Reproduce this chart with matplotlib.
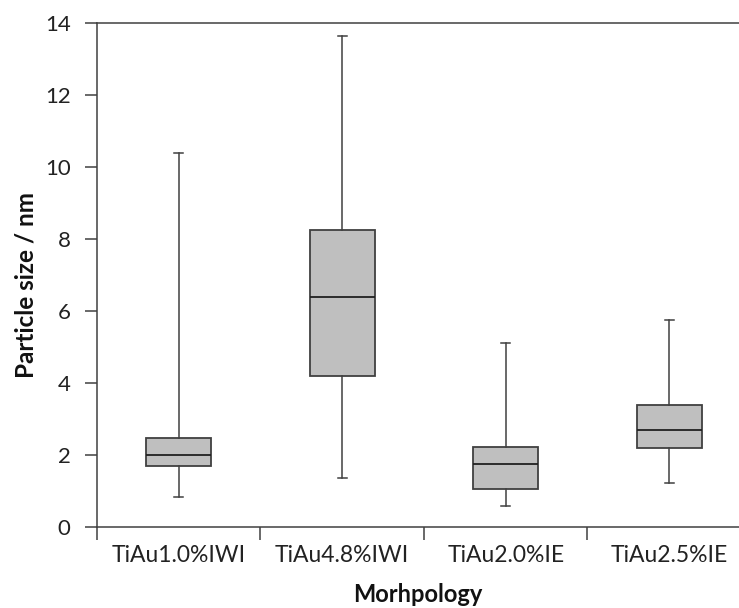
import matplotlib.pyplot as plt
from matplotlib.ticker import FixedLocator, NullFormatter

plt.rcParams['font.family'] = ['Lato', 'DejaVu Sans']

# box plot statistics
categories = ['TiAu1.0%IWI', 'TiAu4.8%IWI', 'TiAu2.0%IE', 'TiAu2.5%IE']
whisker_low = [0.83, 1.36, 0.57, 1.22]
q1 = [1.69, 4.19, 1.05, 2.19]
median = [2.01, 6.40, 1.76, 2.69]
q3 = [2.48, 8.24, 2.23, 3.40]
whisker_high = [10.38, 13.63, 5.11, 5.75]
y_ticks = [0, 2, 4, 6, 8, 10, 12, 14]

edge = '#404040'

stats = []
for i, name in enumerate(categories):
    stats.append({'label': name, 'whislo': whisker_low[i], 'q1': q1[i],
                  'med': median[i], 'q3': q3[i], 'whishi': whisker_high[i]})

fig = plt.figure(figsize=(7.39, 6.08), dpi=100)
ax = fig.add_axes([97 / 739, 1 - 527 / 608, 642 / 739, 504 / 608])

positions = list(range(1, len(categories) + 1))
ax.bxp(stats, positions=positions, widths=0.4, showfliers=False,
       patch_artist=True, capwidths=0.055,
       boxprops=dict(facecolor='#bfbfbf', edgecolor=edge, linewidth=1.3),
       medianprops=dict(color='#202020', linewidth=1.3),
       whiskerprops=dict(color=edge, linewidth=1.1),
       capprops=dict(color=edge, linewidth=1.1))

ax.set_xlim(0.5, 0.5 + 642 / 163.5)
ax.set_ylim(0, 14)
ax.set_yticks(y_ticks)

# category ticks at boundaries, labels at centres
ax.xaxis.set_major_locator(FixedLocator([0.5, 1.5, 2.5, 3.5]))
ax.xaxis.set_major_formatter(NullFormatter())
ax.xaxis.set_minor_locator(FixedLocator(positions))
ax.set_xticklabels(categories, minor=True)
ax.tick_params(axis='x', which='minor', length=0, pad=13, labelsize=16.5, colors='#222222')
ax.tick_params(axis='x', which='major', length=9, width=1.1, color=edge)
ax.tick_params(axis='y', length=9, width=1.1, color=edge, labelsize=16,
               labelcolor='#222222', pad=10)

for side in ['left', 'bottom', 'top']:
    ax.spines[side].set_color(edge)
    ax.spines[side].set_linewidth(1.1)
ax.spines['right'].set_visible(False)

ax.set_ylabel('Particle size / nm', fontsize=17.5, fontweight='bold', color='#111111')
ax.set_xlabel('Morhpology', fontsize=17, fontweight='bold', color='#111111')
ax.yaxis.set_label_coords(-0.093, 0.48)
ax.xaxis.set_label_coords(0.5, -0.112)

fig.savefig('out.png', dpi=100)
